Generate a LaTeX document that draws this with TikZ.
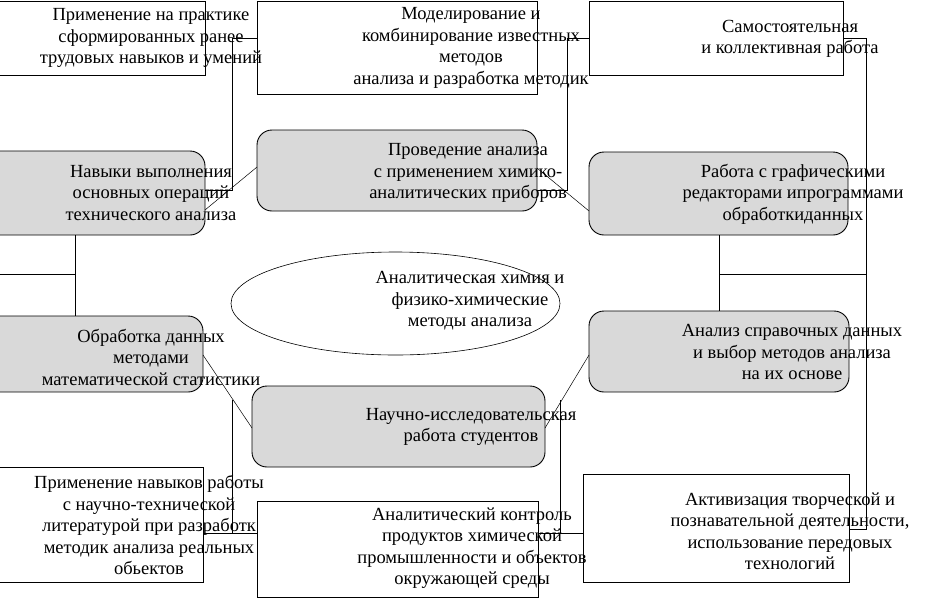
\documentclass[tikz,border=0pt]{standalone}
\usepackage{fontspec}
\setmainfont{Liberation Serif}
\usetikzlibrary{shapes.geometric}
\definecolor{boxgray}{RGB}{217,217,217}
\begin{document}
\begin{tikzpicture}[x=1pt,y=-1pt,
  plainbox/.style={draw=black,line width=0.9pt,fill=white,rectangle,inner sep=0pt,outer sep=0pt,anchor=north west},
  roundbox/.style={draw=black,line width=0.9pt,fill=boxgray,rectangle,rounded corners=15pt,inner sep=0pt,outer sep=0pt,anchor=north west},
  txt/.style={align=center,inner sep=0pt,font=\fontsize{18.5}{21.5}\selectfont},
  conn/.style={draw=black,line width=0.9pt},
  diag/.style={draw=black,line width=0.5pt}]
\useasboundingbox (0,0) rectangle (944,600);
% boxes
\node[plainbox,minimum width=225pt,minimum height=74pt] (a1) at (-20,1) {};
\node[plainbox,minimum width=280pt,minimum height=93pt] (a2) at (257,1) {};
\node[plainbox,minimum width=254pt,minimum height=74pt] (a3) at (589,1) {};
\node[roundbox,minimum width=225pt,minimum height=84pt] (b1) at (-20,151) {};
\node[roundbox,minimum width=280pt,minimum height=81pt] (b2) at (257,130) {};
\node[roundbox,minimum width=259pt,minimum height=83pt] (b3) at (589,152) {};
\node[draw=black,line width=0.6pt,ellipse,minimum width=329pt,minimum height=103pt,inner sep=0pt] (el) at (395.5,303.5) {};
\node[roundbox,minimum width=223pt,minimum height=76pt] (c1) at (-20,316) {};
\node[roundbox,minimum width=260pt,minimum height=81pt] (c3) at (589,311) {};
\node[roundbox,minimum width=293pt,minimum height=81pt] (d) at (252,386) {};
\node[plainbox,minimum width=223pt,minimum height=115pt] (e1) at (-20,467) {};
\node[plainbox,minimum width=281pt,minimum height=96pt] (e2) at (257,501) {};
\node[plainbox,minimum width=266pt,minimum height=108pt] (e3) at (583,474) {};
% junction coordinates
\coordinate (j1) at (232,38);
\coordinate (j2) at (232,190);
\coordinate (j3) at (567,38);
\coordinate (j4) at (567,190);
\coordinate (j5) at (866,38);
\coordinate (j6) at (866,529);
\coordinate (j7) at (75,274);
\coordinate (j8) at (-20,274);
\coordinate (j9) at (719,274);
\coordinate (j10) at (232,400);
\coordinate (j11) at (232,533);
\coordinate (j12) at (560,400);
\coordinate (j13) at (560,533);
\coordinate (y167) at (0,167);
\coordinate (y168) at (0,168);
\coordinate (y210) at (0,210);
\coordinate (y211) at (0,211);
\coordinate (y355) at (0,355);
\coordinate (y428) at (0,428);
% connectors
\draw[conn] (a2.west |- j1) -- (j1) -- (j2) -- (b1.east |- j2);
\draw[conn] (a3.west |- j3) -- (j3) -- (j4) -- (b2.east |- j4);
\draw[conn] (a3.east |- j5) -- (j5) -- (j6) -- (e3.east |- j6);
\draw[conn] (b1.south -| j7) -- (c1.north -| j7);
\draw[conn] (j8) -- (j7);
\draw[conn] (b3.south -| j9) -- (c3.north -| j9);
\draw[conn] (j9) -- (j9 -| j5);
\draw[conn] (e1.east |- j11) -- (e2.west |- j11);
\draw[conn] (j10) -- (j11);
\draw[conn] (e2.east |- j13) -- (e3.west |- j13);
\draw[conn] (j12) -- (j13);
\draw[diag] (b1.east |- y210) -- (b2.west |- y167);
\draw[diag] (b2.east |- y168) -- (b3.west |- y211);
\draw[diag] (c1.east |- y355) -- (d.west |- y428);
\draw[diag] (d.east |- y428) -- (c3.west |- y355);
% texts
\node[txt] (ta1) at (151,38) {Применение на практике\\сформированных ранее\\трудовых навыков и умений};
\node[txt] (ta2) at (471,48) {Моделирование и\\комбинирование известных\\методов\\анализа и разработка методик};
\node[txt] (ta3) at (790,39) {Самостоятельная\\и коллективная работа};
\node[txt] (tb1) at (151,193) {Навыки выполнения\\основных операций\\технического анализа};
\node[txt] (tb2) at (468,173) {Проведение анализа\\с применением химико-\\аналитических приборов};
\node[txt] (tb3) at (793,194) {Работа с графическими\\редакторами ипрограммами\\обработкиданных};
\node[txt] (tel) at (470,301) {Аналитическая химия и\\физико-химические\\методы анализа};
\node[txt] (tc1) at (151,357) {Обработка данных\\методами\\математической статистики};
\node[txt] (tc3) at (792,352) {Анализ справочных данных\\и выбор методов анализа\\на их основе};
\node[txt] (td) at (471,427) {Научно-исследовательская\\работа студентов};
\node[txt] (te1) at (149,525) {Применение навыков работы\\с научно-технической\\литературой при разработк\\методик анализа реальных\\обьектов};
\node[txt] (te2) at (472,548) {Аналитический контроль\\продуктов химической\\промышленности и объектов\\окружающей среды};
\node[txt] (te3) at (790,531) {Активизация творческой и\\познавательной деятельности,\\использование передовых\\технологий};
\end{tikzpicture}
\end{document}
